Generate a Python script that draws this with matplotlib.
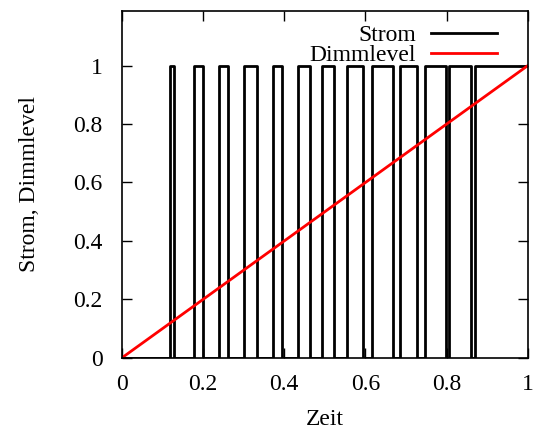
import matplotlib
matplotlib.use("Agg")
import matplotlib.pyplot as plt

# pulse edges of the current signal
rise = [0.118, 0.178, 0.240, 0.301, 0.371, 0.433, 0.493, 0.555, 0.615, 0.685, 0.747, 0.807, 0.870]
fall = [0.128, 0.200, 0.262, 0.332, 0.394, 0.463, 0.523, 0.595, 0.667, 0.726, 0.799, 0.859, 1.0]

dimm_x = [0, 1]
dimm_y = [0, 1]

t = [0.0]
s = [0.0]
for r, f in zip(rise, fall):
    t += [r, r, f, f]
    s += [0, 1, 1, 0]
t[-1] = 1.0
s[-1] = 1

plt.rcParams['font.family'] = ['Liberation Serif', 'DejaVu Serif']
plt.rcParams['font.size'] = 17

fig = plt.figure(figsize=(5.36, 4.30), dpi=100)
ax = fig.add_axes([0.2276, 0.168, 0.757, 0.8064])

ax.plot(t, s, color='black', lw=2, label='Strom')
ax.plot(dimm_x, dimm_y, color='red', lw=2, label='Dimmlevel')

ax.set_xlim(0, 1)
ax.set_ylim(0, 1.187)
ax.set_xticks([0, 0.2, 0.4, 0.6, 0.8, 1])
ax.set_xticklabels(['0', '0.2', '0.4', '0.6', '0.8', '1'])
ax.set_yticks([0, 0.2, 0.4, 0.6, 0.8, 1])
ax.set_yticklabels(['0', '0.2', '0.4', '0.6', '0.8', '1'])
ax.tick_params(direction='in', top=True, right=True, length=7, width=1)
ax.tick_params(axis='x', pad=12)
ax.tick_params(axis='y', pad=14)
for sp in ax.spines.values():
    sp.set_linewidth(1.2)

ax.set_xlabel('Zeit', labelpad=10)
ax.set_ylabel('Strom, Dimmlevel', labelpad=24)

ax.legend(loc='upper right', frameon=False, markerfirst=False, handlelength=2.8,
          borderaxespad=0.0, labelspacing=-0.04, handletextpad=0.65,
          bbox_to_anchor=(0.948, 0.989))

fig.savefig('out.png', dpi=100)
